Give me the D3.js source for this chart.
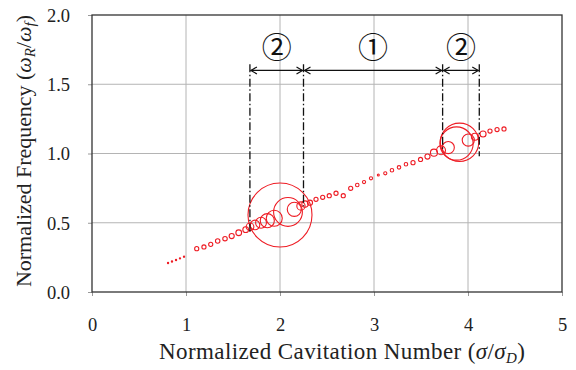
<!DOCTYPE html>
<html><head><meta charset="utf-8">
<script src="https://cdn.jsdelivr.net/npm/d3@7"></script>
<style>
html,body{margin:0;padding:0;background:#fff;}
svg text{font-family:"Liberation Serif","Times New Roman",serif;}
</style></head>
<body><svg id="c" width="576" height="370"></svg>
<script>
// ---- data ----
const sigmaRatio = [0.809,0.851,0.894,0.936,0.979,
  1.114,1.191,1.263,1.337,1.415,1.486,1.561,1.635,1.681,1.734,1.798,1.865,1.939,2.000,2.085,2.152,2.223,2.266,2.319,
  2.383,2.454,2.524,2.596,2.673,2.752,2.822,2.894,2.968,3.046,3.120,3.191,3.266,3.340,3.415,3.495,3.569,3.638,3.713,3.790,3.878,3.910,4.003,4.074,4.160,4.234,4.309,4.383];
const freqRatio = [0.209,0.220,0.231,0.243,0.255,
  0.313,0.325,0.344,0.368,0.385,0.404,0.428,0.450,0.471,0.484,0.500,0.515,0.532,0.556,0.578,0.597,0.621,0.635,0.645,
  0.669,0.684,0.695,0.713,0.695,0.749,0.773,0.794,0.821,0.845,0.857,0.879,0.900,0.922,0.934,0.957,0.978,1.006,1.023,1.043,1.072,1.081,1.097,1.121,1.141,1.162,1.173,1.177];
const amplitude = [0.02,0.02,0.02,0.02,0.02,
  0.065,0.065,0.065,0.07,0.07,0.08,0.09,0.09,0.12,0.15,0.17,0.22,0.25,1.00,0.45,0.22,0.13,0.10,0.08,
  0.065,0.065,0.065,0.065,0.065,0.065,0.055,0.05,0.05,0.03,0.05,0.055,0.055,0.055,0.065,0.065,0.08,0.11,0.14,0.19,0.52,0.60,0.19,0.11,0.095,0.065,0.065,0.065];
const xTicks = [0,1,2,3,4,5];
const yTicks = [0.0,0.5,1.0,1.5,2.0];
const regionBounds = [1.68,2.25,3.73,4.12];
const boundBottoms = [0.43,0.62,1.02,0.98];
const regionLabels = ["②","①","②"];

// ---- layout ----
const svg = d3.select("#c");
const L=92,R=562,T=15,B=292;
const x = d3.scaleLinear().domain([0,5]).range([L,R]);
const y = d3.scaleLinear().domain([0,2]).range([B,T]);
const r = d3.scaleLinear().domain([0,1]).range([0,32]);

// grid
const g = svg.append("g");
g.selectAll("line.vx").data(xTicks.slice(1,-1)).enter().append("line")
  .attr("x1",d=>x(d)).attr("x2",d=>x(d)).attr("y1",T).attr("y2",B)
  .attr("stroke","#b4b4b4").attr("stroke-width",1);
g.selectAll("line.hy").data(yTicks.slice(1,-1)).enter().append("line")
  .attr("y1",d=>y(d)).attr("y2",d=>y(d)).attr("x1",L).attr("x2",R)
  .attr("stroke","#b4b4b4").attr("stroke-width",1);

// axes
const xa = svg.append("g").attr("transform",`translate(0,${B})`)
  .call(d3.axisBottom(x).tickValues(xTicks).tickFormat(d3.format("d")).tickSize(4).tickPadding(22));
const ya = svg.append("g").attr("transform",`translate(${L},0)`)
  .call(d3.axisLeft(y).tickValues(yTicks).tickFormat(d3.format(".1f")).tickSize(4).tickPadding(18));
[xa,ya].forEach(a=>{
  a.select(".domain").remove();
  a.selectAll(".tick line").attr("stroke","#999");
  a.selectAll(".tick text").attr("font-size",18.5).attr("fill","#222")
   .attr("font-family","Liberation Serif, serif");
});
ya.selectAll(".tick text").attr("dy","0.35em");

// frame
svg.append("rect").attr("x",L).attr("y",T).attr("width",R-L).attr("height",B-T)
  .attr("fill","none").attr("stroke","#333").attr("stroke-width",1.3);

// data points
const pts = sigmaRatio.map((s,i)=>({s,f:freqRatio[i],a:amplitude[i]}));
svg.append("g").selectAll("circle").data(pts).enter().append("circle")
  .attr("cx",d=>x(d.s)).attr("cy",d=>y(d.f)).attr("r",d=>r(d.a))
  .attr("fill","none").attr("stroke","#ee1c24").attr("stroke-width",1.1);

// annotations
const ann = svg.append("g");
const arrowY = 1.6, topY = 1.645;
regionBounds.forEach((b,i)=>{
  ann.append("line").attr("x1",x(b)).attr("x2",x(b)).attr("y1",y(topY)).attr("y2",y(boundBottoms[i]))
    .attr("stroke","#111").attr("stroke-width",1.3).attr("stroke-dasharray","8,2.5,1.5,2.5");
});
for(let i=0;i<3;i++){
  const x1=x(regionBounds[i])+1, x2=x(regionBounds[i+1])-1, yy=y(arrowY);
  ann.append("line").attr("x1",x1).attr("x2",x2).attr("y1",yy).attr("y2",yy)
    .attr("stroke","#111").attr("stroke-width",1.2);
  ann.append("path").attr("d",`M${x1+6},${yy-3.5}L${x1},${yy}L${x1+6},${yy+3.5}`)
    .attr("fill","none").attr("stroke","#111").attr("stroke-width",1.2);
  ann.append("path").attr("d",`M${x2-6},${yy-3.5}L${x2},${yy}L${x2-6},${yy+3.5}`)
    .attr("fill","none").attr("stroke","#111").attr("stroke-width",1.2);
  ann.append("text").attr("x",(x1+x2)/2).attr("y",y(1.765)).attr("dy","0.36em")
    .attr("text-anchor","middle").attr("font-size",30).attr("fill","#111")
    .style("font-family","'Noto Sans CJK JP','DejaVu Sans',sans-serif")
    .text(regionLabels[i]);
}

// axis titles
const xt = svg.append("text").attr("x",342).attr("y",359).attr("text-anchor","middle")
  .attr("font-size",23).attr("fill","#222")
  .attr("textLength",366).attr("lengthAdjust","spacing");
xt.append("tspan").text("Normalized Cavitation Number (");
xt.append("tspan").attr("font-style","italic").text("σ");
xt.append("tspan").text("/");
xt.append("tspan").attr("font-style","italic").text("σ");
xt.append("tspan").attr("font-style","italic").attr("font-size",15).attr("dy",4).text("D");
xt.append("tspan").attr("dy",-4).text(")");

const yt = svg.append("text").attr("transform",`translate(31,151) rotate(-90)`)
  .attr("text-anchor","middle").attr("font-size",22).attr("fill","#222")
  .attr("textLength",272).attr("lengthAdjust","spacing");
yt.append("tspan").text("Normalized Frequency (");
yt.append("tspan").attr("font-style","italic").text("ω");
yt.append("tspan").attr("font-style","italic").attr("font-size",15).attr("dy",4).text("R");
yt.append("tspan").attr("dy",-4).text("/");
yt.append("tspan").attr("font-style","italic").text("ω");
yt.append("tspan").attr("font-style","italic").attr("font-size",15).attr("dy",4).text("f");
yt.append("tspan").attr("dy",-4).text(")");
</script></body></html>
